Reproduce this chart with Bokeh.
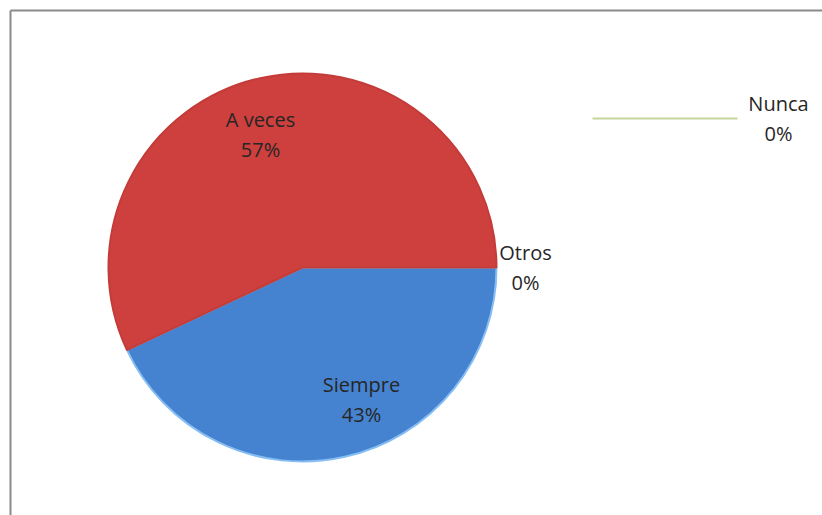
import math
from bokeh.plotting import figure
from bokeh.models import ColumnDataSource, Range1d
from bokeh.core.properties import value
from bokeh.embed import file_html
from bokeh.resources import INLINE

# ---- data ----
categories = ["Siempre", "A veces", "Nunca", "Otros"]
counts = [43, 57, 0, 0]
colors = ["#4583D0", "#CD403D", "#9BBB59", "#8064A2"]
edge_colors = ["#86BDF2", "#C43C39", "#9BBB59", "#8064A2"]

W, H = 822, 515
p = figure(width=W, height=H, output_backend="svg", toolbar_location=None,
           x_range=Range1d(0, W), y_range=Range1d(0, H), min_border=0,
           background_fill_color="white", border_fill_color="white")
p.axis.visible = False
p.grid.visible = False
p.outline_line_color = None

# frame of the chart area (cut off at right/bottom as in the reference)
p.segment(x0=[10, 10], y0=[505, 505], x1=[W, 10], y1=[505, 0],
          line_color="#8A8A8A", line_width=2)

# pie geometry (clockwise from 3 o'clock)
total = sum(counts)
fracs = [c / total for c in counts]
starts, ends = [], []
acc = 0.0
for f in fracs:
    starts.append(-acc * 2 * math.pi)
    acc += f
    ends.append(-acc * 2 * math.pi)

cx, cy, r = 302, 248, 194
vis = [i for i, f in enumerate(fracs) if f > 0]
vsrc = ColumnDataSource(dict(start=[starts[i] for i in vis], end=[ends[i] for i in vis],
                             fill=[colors[i] for i in vis], edge=[edge_colors[i] for i in vis]))
p.wedge(x=cx, y=cy, radius=r, start_angle="start", end_angle="end",
        direction="clock", fill_color="fill", line_color="edge",
        line_width=2, source=vsrc)

# labels
labels = [f"{c}\n{round(v / total * 100)}%" for c, v in zip(categories, counts)]
lx = [361, 260, 778, 525]
ly = [116, 381, 397, 248]
p.text(x=lx, y=ly, text=labels, text_align="center", text_baseline="middle",
       text_font=value("Open Sans"), text_font_size="20px", text_color="#262626",
       text_line_height=1.1)

# leader line for the zero "Nunca" slice
p.segment(x0=[592], y0=[397], x1=[737], y1=[397], line_color="#C3D69B", line_width=2)

open("out.html", "w").write(file_html(p, INLINE))
